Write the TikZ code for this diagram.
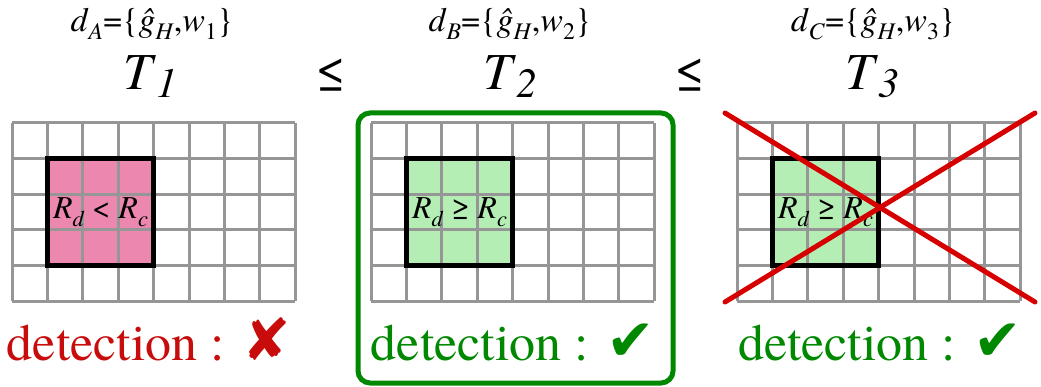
\documentclass[tikz,border=0pt]{standalone}
\usepackage{fontspec}
\usepackage{graphicx}
\setmainfont{texgyretermes}[Extension=.otf,UprightFont=*-regular,ItalicFont=*-italic,BoldFont=*-bold,BoldItalicFont=*-bolditalic,Ligatures=TeX]
\newfontfamily\symfont{DejaVu Sans}
\newcommand\subl[1]{\raisebox{-0.22em}{\scalebox{0.7}{#1}}}
\newcommand\subt[1]{\raisebox{-0.15em}{\scalebox{0.8}{#1}}}
\newcommand\detmark[1]{{\symfont\fontsize{58}{60}\selectfont #1}}
\definecolor{gridgray}{RGB}{150,150,150}
\definecolor{pinkfill}{RGB}{236,135,176}
\definecolor{greenfill}{RGB}{180,238,180}
\definecolor{badred}{RGB}{200,12,12}
\definecolor{crossred}{RGB}{214,0,0}
\definecolor{okgreen}{RGB}{0,136,0}
\tikzset{
  gridline/.style={draw=gridgray,line width=3pt},
  sq/.style={draw=black,line width=5pt},
  rel/.style={font=\fontsize{32}{36}\selectfont,inner sep=0pt,anchor=base},
  toplabel/.style={font=\fontsize{34}{40}\selectfont,anchor=base,inner sep=0pt},
  tlabel/.style={font=\fontsize{52}{60}\selectfont,anchor=base,inner sep=0pt},
  leq/.style={font=\fontsize{52}{60}\selectfont,anchor=base,inner sep=0pt},
  det/.style={font=\fontsize{52}{60}\selectfont,anchor=base,inner sep=0pt},
  okbox/.style={draw=okgreen,line width=5pt,rounded corners=12pt},
  crossline/.style={draw=crossred,line width=5pt,line cap=round}
}
\newcommand\drawgrid[3]{%
  \begin{scope}[shift={(#1,123)}]
    \fill[#2] (35.4,35.6) rectangle (141.6,142.4);
    \foreach \i in {0,...,8} \draw[gridline] (\i*35.4,0) -- (\i*35.4,178);
    \foreach \j in {0,...,5} \draw[gridline] (0,\j*35.6) -- (283.2,\j*35.6);
    \draw[sq] (35.4,35.6) rectangle (141.6,142.4);
    \node[rel] at (88.5,96) {#3};
  \end{scope}}
\begin{document}
\begin{tikzpicture}[x=1pt,y=-1pt]
\useasboundingbox (0,0) rectangle (1041,387);
% top labels
\node[toplabel] (dA) at (152,32) {\textit{d}\subl{\textit{A}}=\{\textit{ĝ}\subl{\textit{H}},\textit{w}\subl{1}\}};
\node[toplabel] (dB) at (510,32) {\textit{d}\subl{\textit{B}}=\{\textit{ĝ}\subl{\textit{H}},\textit{w}\subl{2}\}};
\node[toplabel] (dC) at (873,32) {\textit{d}\subl{\textit{C}}=\{\textit{ĝ}\subl{\textit{H}},\textit{w}\subl{3}\}};
\node[tlabel] (T1) at (150,90) {\textit{T}\subt{\textit{1}}};
\node[tlabel] (T2) at (510,90) {\textit{T}\subt{\textit{2}}};
\node[tlabel] (T3) at (872,90) {\textit{T}\subt{\textit{3}}};
\node[leq] (le1) at (331,90) {≤};
\node[leq] (le2) at (690,90) {≤};
% grids
\drawgrid{12}{pinkfill}{\textit{R}\subl{\textit{d}} < \textit{R}\subl{\textit{c}}}
\drawgrid{371}{greenfill}{\textit{R}\subl{\textit{d}} ≥ \textit{R}\subl{\textit{c}}}
\drawgrid{737}{greenfill}{\textit{R}\subl{\textit{d}} ≥ \textit{R}\subl{\textit{c}}}
% chosen box
\draw[okbox] (358,113) rectangle (673,383);
% cross
\draw[crossline] (725,113) -- (1035,302);
\draw[crossline] (725,302) -- (1035,113);
% detection labels
\node[det,text=badred] (detA) at (149,360) {detection : \detmark{✘}};
\node[det,text=okgreen] (detB) at (513,360) {detection : \detmark{✔}};
\node[det,text=okgreen] (detC) at (880,360) {detection : \detmark{✔}};
\end{tikzpicture}
\end{document}
